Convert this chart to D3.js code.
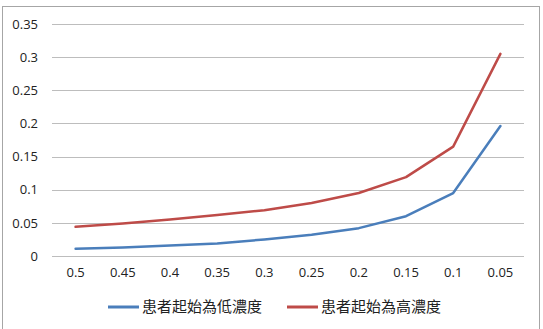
<!DOCTYPE html>
<html lang="zh-Hant">
<head>
<meta charset="utf-8">
<script src="https://cdn.jsdelivr.net/npm/d3@7"></script>
<style>
  body { margin: 0; background: #fff; }
  text { font-family: "Open Sans", "Noto Sans CJK TC", sans-serif; fill: #222; }
</style>
</head>
<body>
<script>
// data
var categories = ["0.5", "0.45", "0.4", "0.35", "0.3", "0.25", "0.2", "0.15", "0.1", "0.05"];
var lowStart  = [0.011, 0.013, 0.016, 0.019, 0.025, 0.032, 0.042, 0.060, 0.095, 0.196];
var highStart = [0.044, 0.049, 0.055, 0.062, 0.069, 0.080, 0.095, 0.119, 0.165, 0.305];
var yTicks = [0, 0.05, 0.1, 0.15, 0.2, 0.25, 0.3, 0.35];
var seriesNames = ["患者起始為低濃度", "患者起始為高濃度"];
var seriesColors = ["#4a7ebb", "#be4b48"];

var w = 543, h = 329;
var plotL = 52, plotR = 524, plotT = 24, plotB = 256;

var svg = d3.select("body").append("svg")
  .attr("width", w).attr("height", h);

// outer frame
svg.append("rect")
  .attr("x", 2.5).attr("y", 6.5)
  .attr("width", 537).attr("height", 330)
  .attr("fill", "none").attr("stroke", "#a6a6a6").attr("stroke-width", 1);

var xScale = d3.scaleBand().domain(categories).range([plotL, plotR]);
var yScale = d3.scaleLinear().domain([0, 0.35]).range([plotB, plotT]);

// gridlines
var yAxis = d3.axisLeft(yScale)
  .tickValues(yTicks)
  .tickSize(-(plotR - plotL))
  .tickPadding(14)
  .tickFormat(function(d) { return String(+d.toFixed(2)); });

var gy = svg.append("g")
  .attr("transform", "translate(" + plotL + ",0)")
  .call(yAxis);
gy.select(".domain").remove();
gy.selectAll("line").attr("stroke", "#bdbdbd").attr("shape-rendering", "crispEdges");
gy.selectAll("text").attr("font-size", "13px").attr("fill", "#222");

var xAxis = d3.axisBottom(xScale).tickSize(0).tickPadding(12);
var gx = svg.append("g")
  .attr("transform", "translate(0," + plotB + ")")
  .call(xAxis);
gx.select(".domain").remove();
gx.selectAll("text").attr("font-size", "13px").attr("fill", "#222");

var line = d3.line()
  .x(function(d, i) { return xScale(categories[i]) + xScale.bandwidth() / 2; })
  .y(function(d) { return yScale(d); });

[lowStart, highStart].forEach(function(s, k) {
  svg.append("path")
    .datum(s)
    .attr("d", line)
    .attr("fill", "none")
    .attr("stroke", seriesColors[k])
    .attr("stroke-width", 2.5)
    .attr("stroke-linejoin", "round")
    .attr("stroke-linecap", "round");
});

// legend
var legendX = [108, 287];
var legend = svg.selectAll(".leg")
  .data(seriesNames)
  .enter().append("g")
  .attr("class", "leg")
  .attr("transform", function(d, i) { return "translate(" + legendX[i] + ",307)"; });

legend.append("line")
  .attr("x1", 0).attr("x2", 31)
  .attr("stroke", function(d, i) { return seriesColors[i]; })
  .attr("stroke-width", 3);

legend.append("text")
  .attr("x", 34).attr("dy", "0.35em")
  .attr("font-size", "15px")
  .attr("fill", "#333")
  .style("font-family", "'Noto Sans CJK TC', sans-serif")
  .text(function(d) { return d; });
</script>
</body>
</html>
